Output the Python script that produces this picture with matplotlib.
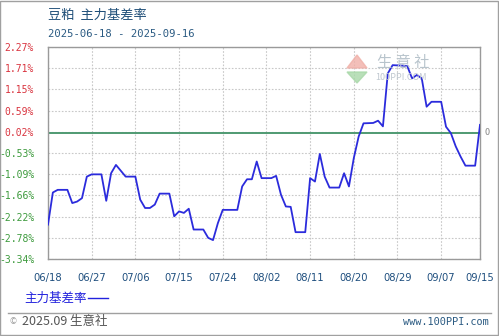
import matplotlib
matplotlib.use("Agg")
import matplotlib.pyplot as plt
import matplotlib.dates as mdates
from matplotlib.patches import Polygon, Rectangle
from matplotlib.lines import Line2D
import numpy as np
import datetime as dt

plt.rcParams['font.family'] = ['Noto Sans CJK SC', 'DejaVu Sans']

# data (day offset from 2025-06-18, basis rate %)
start = dt.date(2025, 6, 18)
day_offsets = [0, 1, 2, 4, 5, 6, 7, 8, 9, 11, 12, 13, 14, 16, 18, 19, 20, 21, 22, 23,
               25, 26, 27, 28, 29, 30, 32, 33, 34, 35, 36, 39, 40, 41, 42, 43, 44, 46, 47,
               48, 49, 50, 51, 53, 54, 55, 56, 57, 58, 60, 61, 62, 63, 64, 65, 67, 68, 69,
               70, 71, 74, 75, 76, 77, 78, 79, 81, 82, 83, 84, 85, 86, 88, 89]
basis_rate = [-2.43, -1.58, -1.51, -1.51, -1.86, -1.82, -1.73, -1.16, -1.10, -1.10, -1.80,
              -1.07, -0.85, -1.16, -1.16, -1.77, -1.99, -1.99, -1.90, -1.61,
              -1.61, -2.21, -2.08, -2.12, -2.01, -2.56, -2.56, -2.78, -2.84, -2.39, -2.04,
              -2.04, -1.42, -1.23, -1.23, -0.76, -1.20, -1.20, -1.14,
              -1.64, -1.95, -1.96, -2.63, -2.63, -1.20, -1.29, -0.56, -1.16, -1.45, -1.45,
              -1.07, -1.42, -0.67, -0.10, 0.25, 0.26, 0.32, 0.17,
              1.57, 1.79, 1.77, 1.44, 1.53, 1.44, 0.69, 0.82, 0.82, 0.16, -0.01, -0.36,
              -0.63, -0.87, -0.87, 0.21]
ytick_labels = ['-3.34%', '-2.78%', '-2.22%', '-1.66%', '-1.09%', '-0.53%',
                '0.02%', '0.59%', '1.15%', '1.71%', '2.27%']
xtick_labels = ['06/18', '06/27', '07/06', '07/15', '07/24', '08/02',
                '08/11', '08/20', '08/29', '09/07', '09/15']

dates = [start + dt.timedelta(days=d) for d in day_offsets]
end = start + dt.timedelta(days=89)

fig = plt.figure(figsize=(4.99, 3.36), dpi=100)
W, H = 499.0, 336.0

def fx(px):
    return px / W

def fy(py):
    return 1 - py / H

ax = fig.add_axes([fx(48), fy(259), fx(480) - fx(48), fy(47) - fy(259)])

ax.plot(dates, basis_rate, color='#2b2bdc', lw=1.3, zorder=3)
ax.axhline(0, color='#4f9a72', lw=1.4, zorder=2)

ax.set_xlim(start, end)
ax.set_ylim(-3.34, 2.27)
yticks = np.linspace(-3.34, 2.27, len(ytick_labels))
ax.set_yticks(yticks)
ax.set_yticklabels(ytick_labels, family='DejaVu Sans Mono', fontsize=7)
for lab, v in zip(ax.get_yticklabels(), yticks):
    lab.set_color('#d9343f' if v > 0 else '#3c9a3c')

xticks = [start + dt.timedelta(days=9 * i) for i in range(len(xtick_labels))]
xticks[-1] = end
ax.set_xticks(xticks)
ax.set_xticklabels(xtick_labels, fontsize=7.2, color='#1f4f7f', family='DejaVu Sans')
ax.tick_params(length=0, pad=10)
ax.tick_params(axis='y', pad=10)

ax.grid(True, color='#c8c8c8', ls=(0, (1.5, 1.5)), lw=0.8)
for s in ax.spines.values():
    s.set_color('#9a9a9a')
    s.set_linewidth(1.0)

ax.text(1.01, 0, '0', transform=ax.get_yaxis_transform(), fontsize=6.5,
        color='#888888', va='center', ha='left')

# titles
fig.text(fx(48), fy(15), '豆粕  主力基差率', fontsize=9.5, color='#1e4e78', va='center')
fig.text(fx(48), fy(34), '2025-06-18 - 2025-09-16', fontsize=7.6, color='#2a5a82',
         va='center', family='DejaVu Sans Mono')

# watermark
fig.patches.append(Polygon([[fx(347), fy(68)], [fx(357), fy(55)], [fx(367), fy(68)]],
                           closed=True, transform=fig.transFigure, color='#f0b0a8', alpha=0.8))
fig.patches.append(Polygon([[fx(347), fy(72)], [fx(357), fy(83)], [fx(367), fy(72)]],
                           closed=True, transform=fig.transFigure, color='#a8d8a8', alpha=0.8))
fig.text(fx(377), fy(62), '生 意 社', fontsize=11, color='#b8c4cc', va='center')
fig.text(fx(375), fy(77), '100PPI.COM', fontsize=6.5, color='#c0c8d0', va='center')

# legend
fig.text(fx(24), fy(298), '主力基差率', fontsize=9, color='#2222dd', va='center')
fig.lines.append(Line2D([fx(88), fx(108)], [fy(298), fy(298)], transform=fig.transFigure,
                        color='#2222dd', lw=1.0))

# footer
fig.lines.append(Line2D([fx(8), fx(491)], [fy(313), fy(313)], transform=fig.transFigure,
                        color='#a0a0a0', lw=1.0))
fig.text(fx(9), fy(322), '©', fontsize=6, color='#999999', va='center')
fig.text(fx(22), fy(322), '2025.09 生意社', fontsize=9, color='#555555', va='center')
fig.text(fx(489), fy(322), 'www.100PPI.com', fontsize=7.4, color='#2a5a82', va='center',
         ha='right', family='DejaVu Sans Mono')

fig.patches.append(Rectangle((0.001, 0.002), 0.997, 0.996, transform=fig.transFigure,
                             fill=False, edgecolor='#a0a0a0', lw=1.0))

fig.savefig('out.png', dpi=100)
